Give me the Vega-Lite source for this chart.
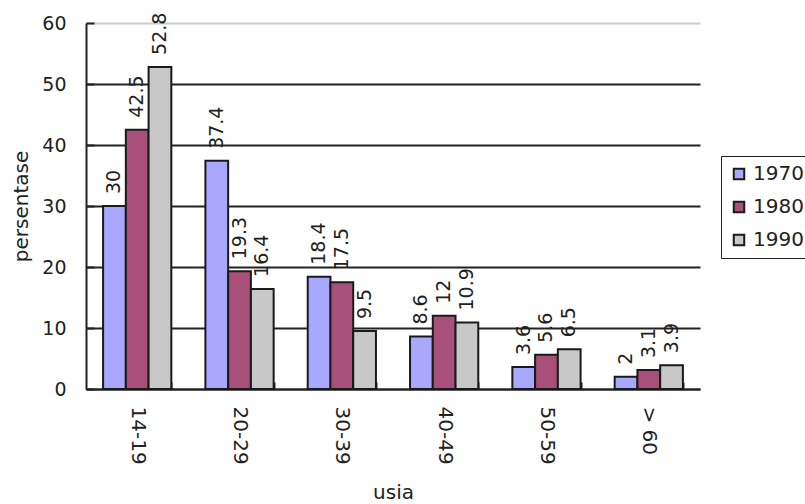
{
  "$schema": "https://vega.github.io/schema/vega-lite/v6.json",
  "width": 614,
  "height": 366,
  "autosize": {"type": "none"},
  "padding": {"left": 86, "top": 23, "right": 105, "bottom": 115},
  "background": "white",
  "config": {
    "font": "DejaVu Sans",
    "view": {"stroke": null},
    "text": {"font": "DejaVu Sans"}
  },
  "data": {
    "values": [
      {"usia": "14-19", "tahun": "1970", "persentase": 30},
      {"usia": "14-19", "tahun": "1980", "persentase": 42.5},
      {"usia": "14-19", "tahun": "1990", "persentase": 52.8},
      {"usia": "20-29", "tahun": "1970", "persentase": 37.4},
      {"usia": "20-29", "tahun": "1980", "persentase": 19.3},
      {"usia": "20-29", "tahun": "1990", "persentase": 16.4},
      {"usia": "30-39", "tahun": "1970", "persentase": 18.4},
      {"usia": "30-39", "tahun": "1980", "persentase": 17.5},
      {"usia": "30-39", "tahun": "1990", "persentase": 9.5},
      {"usia": "40-49", "tahun": "1970", "persentase": 8.6},
      {"usia": "40-49", "tahun": "1980", "persentase": 12},
      {"usia": "40-49", "tahun": "1990", "persentase": 10.9},
      {"usia": "50-59", "tahun": "1970", "persentase": 3.6},
      {"usia": "50-59", "tahun": "1980", "persentase": 5.6},
      {"usia": "50-59", "tahun": "1990", "persentase": 6.5},
      {"usia": "> 60", "tahun": "1970", "persentase": 2},
      {"usia": "> 60", "tahun": "1980", "persentase": 3.1},
      {"usia": "> 60", "tahun": "1990", "persentase": 3.9}
    ]
  },
  "encoding": {
    "x": {
      "field": "usia",
      "type": "nominal",
      "sort": null,
      "scale": {"paddingInner": 0.333, "paddingOuter": 0.167},
      "axis": {
        "title": "usia",
        "titleFont": "DejaVu Sans",
        "titleFontSize": 20,
        "titleFontWeight": "normal",
        "titleColor": "#222",
        "titlePadding": 18,
        "labelAngle": 90,
        "labelAlign": "left",
        "labelBaseline": "middle",
        "labelFontSize": 20,
        "labelColor": "#222",
        "labelPadding": 24,
        "domainColor": "#222",
        "domainWidth": 2,
        "tickBand": "extent",
        "tickSize": -7,
        "tickColor": "#222",
        "tickWidth": 2,
        "grid": false
      }
    },
    "xOffset": {"field": "tahun", "type": "nominal", "scale": {"paddingInner": 0, "paddingOuter": 0}},
    "y": {
      "field": "persentase",
      "type": "quantitative",
      "scale": {"domain": [0, 60], "nice": false},
      "axis": {
        "title": "persentase",
        "titleFont": "DejaVu Sans",
        "titleFontSize": 20,
        "titleFontWeight": "normal",
        "titleColor": "#222",
        "titlePadding": 10,
        "values": [0, 10, 20, 30, 40, 50, 60],
        "labelFontSize": 19,
        "labelColor": "#222",
        "labelPadding": 28,
        "domainColor": "#222",
        "domainWidth": 2,
        "tickSize": -8,
        "tickColor": "#222",
        "tickWidth": 2,
        "grid": true,
        "gridWidth": 2,
        "gridColor": {"condition": {"test": "datum.value == 60", "value": "#cccccc"}, "value": "#222"}
      }
    }
  },
  "layer": [
    {
      "mark": {"type": "bar", "stroke": "#1a1a1a", "strokeWidth": 2},
      "encoding": {
        "color": {
          "field": "tahun",
          "type": "nominal",
          "scale": {"domain": ["1970", "1980", "1990"], "range": ["#a8a8ff", "#a8507a", "#c8c8c8"]},
          "legend": {
            "title": null,
            "orient": "none",
            "legendX": 635,
            "legendY": 133,
            "symbolType": "square",
            "symbolSize": 110,
            "symbolStrokeColor": "#1a1a1a",
            "symbolStrokeWidth": 2,
            "labelFontSize": 20,
            "labelColor": "#222",
            "labelOffset": 4,
            "rowPadding": 13,
            "padding": 8,
            "strokeColor": "#222",
            "fillColor": "white"
          }
        }
      }
    },
    {
      "mark": {"type": "text", "angle": -90, "align": "left", "baseline": "middle", "dx": 12, "fontSize": 19, "color": "#222"},
      "encoding": {
        "text": {"field": "persentase", "type": "quantitative"}
      }
    }
  ]
}
